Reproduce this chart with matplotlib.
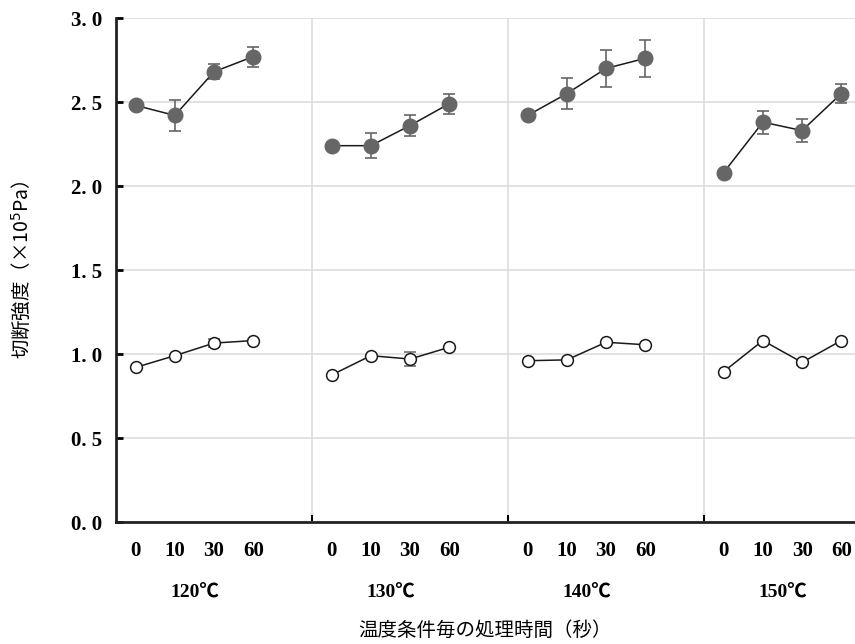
import matplotlib
matplotlib.use("Agg")
from matplotlib import pyplot as plt
import numpy as np

plt.rcParams['font.family'] = ['Noto Sans CJK JP', 'DejaVu Sans']

times = ['0', '10', '30', '60']
temps = ['120℃', '130℃', '140℃', '150℃']

# filled circles
filled_mean = [[2.48, 2.42, 2.68, 2.77],
               [2.24, 2.24, 2.36, 2.49],
               [2.42, 2.55, 2.70, 2.76],
               [2.08, 2.38, 2.33, 2.55]]
filled_err = [[0.0, 0.09, 0.045, 0.06],
              [0.0, 0.075, 0.06, 0.06],
              [0.0, 0.09, 0.11, 0.11],
              [0.0, 0.068, 0.066, 0.056]]

# open circles
open_mean = [[0.92, 0.99, 1.065, 1.08],
             [0.875, 0.99, 0.97, 1.04],
             [0.96, 0.965, 1.07, 1.055],
             [0.895, 1.08, 0.95, 1.08]]
open_err = [[0.0, 0.0, 0.025, 0.0],
            [0.0, 0.0, 0.04, 0.0],
            [0.0, 0.0, 0.0, 0.0],
            [0.0, 0.0, 0.015, 0.0]]

yticks = [0.0, 0.5, 1.0, 1.5, 2.0, 2.5, 3.0]

fig = plt.figure(figsize=(8.55, 6.44), dpi=100)
ax = fig.add_axes([116/855, 1 - 522/644, 1 - 116/855, 504/644])

gap = 5  # spacing between groups, in category units
xpos = []
for g in range(len(temps)):
    x = np.arange(len(times)) + gap * g
    xpos.extend(x)
    ax.errorbar(x, filled_mean[g], yerr=filled_err[g], color='#1a1a1a', lw=1.1,
                marker='o', ms=10.5, mfc='#666666', mec='#666666',
                ecolor='#666666', elinewidth=1.2, capsize=4, capthick=1.2, zorder=3)
    ax.errorbar(x, open_mean[g], yerr=open_err[g], color='#1a1a1a', lw=1.1,
                marker='o', ms=8.5, mfc='white', mec='#1a1a1a', mew=1.1,
                ecolor='#666666', elinewidth=1.2, capsize=4, capthick=1.2, zorder=3)

ax.set_xlim(-0.5, 18.35)
ax.set_ylim(0, 3.0)

# y labels written like "3. 0"
ax.set_yticks(yticks)
ax.set_yticklabels([('%.1f' % v).replace('.', '. ') for v in yticks],
                   family='Liberation Serif', fontsize=15, fontweight='bold')
ax.tick_params(axis='y', direction='in', length=5, width=2, pad=10)

ax.set_xticks(xpos)
ax.set_xticklabels(times * len(temps), family='Liberation Serif',
                   fontsize=15, fontweight='bold')
ax.tick_params(axis='x', which='major', length=0, pad=14)
seps = [gap * g - 0.5 for g in range(1, len(temps))]
ax.set_xticks(seps, minor=True)
ax.tick_params(axis='x', which='minor', direction='in', length=5, width=1.5)

ax.grid(axis='y', color='#dddddd', lw=1.2)
ax.grid(axis='x', which='minor', color='#dddddd', lw=1.2)
ax.set_axisbelow(True)

for s in ['top', 'right']:
    ax.spines[s].set_visible(False)
ax.spines['left'].set_linewidth(2)
ax.spines['bottom'].set_linewidth(2)
ax.spines['left'].set_color('#222222')
ax.spines['bottom'].set_color('#222222')

trans = ax.get_xaxis_transform()
for g, t in enumerate(temps):
    ax.text(gap * g + 1.5, -0.14, t, transform=trans, ha='center', va='center',
            fontsize=14, fontweight='bold', family=['Liberation Serif', 'Noto Sans CJK JP'])

fig.text(485/855, 1 - 630/644, '温度条件毎の処理時間（秒）', ha='center', va='center',
         fontsize=14)
fig.text(22/855, 1 - 270/644, '切断強度（×10$^5$Pa）', ha='center', va='center',
         rotation=90, fontsize=14)

fig.savefig('out.png', dpi=100)
